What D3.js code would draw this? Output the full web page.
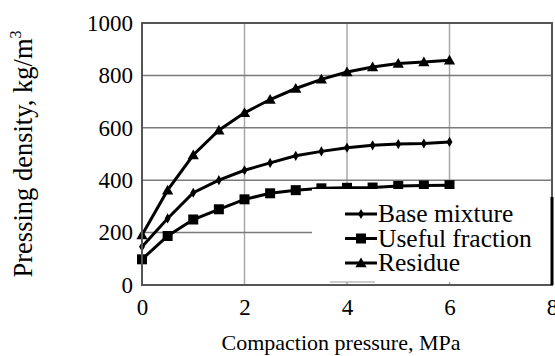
<!DOCTYPE html>
<html lang="en">
  <head>
    <meta charset="UTF-8" />
    <title>Pressing density</title>
    <style>
      body { margin: 0; background: #fff; }
      svg text { font-family: "Liberation Serif", "Times New Roman", Times, serif; fill: #000; }
    </style>
  </head>
  <body>
    <svg id="chart" width="555" height="356"></svg>
    <script src="https://cdn.jsdelivr.net/npm/d3@7"></script>
    <script>
      // data
      const pressure = [0, 0.5, 1, 1.5, 2, 2.5, 3, 3.5, 4, 4.5, 5, 5.5, 6];
      const baseMixture = [146, 254, 352, 400, 438, 466, 493, 510, 524, 533, 538, 540, 546];
      const usefulFraction = [98, 187, 250, 289, 327, 350, 362, 369, 371, 372, 378, 380, 381];
      const residue = [191, 362, 496, 591, 657, 708, 750, 785, 813, 832, 845, 851, 858];
      const seriesNames = ["Base mixture", "Useful fraction", "Residue"];
      const xTicks = [0, 2, 4, 6, 8];
      const yTicks = [0, 200, 400, 600, 800, 1000];

      const serif = '"Liberation Serif", "Times New Roman", Times, serif';
      const svg = d3.select("#chart");
      const plotL = 142, plotR = 552, plotT = 23, plotB = 285;

      const x = d3.scaleLinear().domain([0, 8]).range([plotL, plotR]);
      const y = d3.scaleLinear().domain([0, 1000]).range([plotB, plotT]);

      // grid
      svg.append("g")
        .selectAll("line")
        .data(xTicks.slice(1, -1))
        .join("line")
        .attr("x1", d => x(d)).attr("x2", d => x(d))
        .attr("y1", plotT).attr("y2", plotB)
        .style("stroke", "#a8a8a8")
        .style("stroke-width", 1.5);
      svg.append("g")
        .selectAll("line")
        .data(yTicks.slice(1, -1))
        .join("line")
        .attr("x1", plotL).attr("x2", plotR)
        .attr("y1", d => y(d)).attr("y2", d => y(d))
        .style("stroke", "#7a7a7a")
        .style("stroke-width", 1.5);

      // tick labels
      const xAxis = d3.axisBottom(x).tickValues(xTicks).tickSize(0).tickPadding(14)
        .tickFormat(d3.format("d"));
      svg.append("g")
        .attr("transform", `translate(0,${plotB})`)
        .call(xAxis)
        .attr("font-family", serif)
        .attr("font-size", 23)
        .call(g => g.select(".domain").remove());
      const yAxis = d3.axisLeft(y).tickValues(yTicks).tickSize(0).tickPadding(9)
        .tickFormat(d3.format("d"));
      svg.append("g")
        .attr("transform", `translate(${plotL},0)`)
        .call(yAxis)
        .attr("font-family", serif)
        .attr("font-size", 23)
        .call(g => g.select(".domain").remove());

      const series = [baseMixture, usefulFraction, residue];
      const line = d3.line().x((d, i) => x(pressure[i])).y(d => y(d));

      function marker(g, type, cx, cy) {
        if (type === 0) {
          g.append("path")
            .attr("d", d3.symbol(d3.symbolDiamond, 30)())
            .attr("transform", `translate(${cx},${cy})`);
        } else if (type === 1) {
          g.append("rect")
            .attr("x", cx - 5).attr("y", cy - 5)
            .attr("width", 10).attr("height", 10);
        } else {
          g.append("path")
            .attr("d", d3.symbol(d3.symbolTriangle, 55)())
            .attr("transform", `translate(${cx},${cy + 1})`);
        }
      }

      series.forEach((vals, k) => {
        svg.append("path")
          .datum(vals)
          .attr("d", line)
          .style("fill", "none")
          .style("stroke", "#000")
          .style("stroke-width", 3);
        const g = svg.append("g").style("fill", "#000");
        vals.forEach((v, i) => marker(g, k, x(pressure[i]), y(v)));
      });

      // legend box
      const lg = svg.append("g");
      lg.append("rect")
        .attr("x", 312).attr("y", 189)
        .attr("width", plotR - 312).attr("height", plotB - 3 - 189)
        .style("fill", "#fff");
      lg.append("line")
        .attr("x1", 330).attr("x2", 375)
        .attr("y1", 282).attr("y2", 282)
        .style("stroke", "#999").style("stroke-width", 1);
      const baselines = [222, 246.5, 271];
      seriesNames.forEach((name, k) => {
        const ly = baselines[k] - 8;
        lg.append("line")
          .attr("x1", 345).attr("x2", 377)
          .attr("y1", ly).attr("y2", ly)
          .style("stroke", "#000").style("stroke-width", 3);
        const mg = lg.append("g").style("fill", "#000");
        marker(mg, k, 361, ly);
        lg.append("text")
          .attr("x", 378).attr("y", baselines[k])
          .style("font-size", "25.5px")
          .text(name);
      });

      // frame
      svg.append("rect")
        .attr("x", plotL).attr("y", plotT)
        .attr("width", plotR - plotL).attr("height", plotB - plotT)
        .style("fill", "none")
        .style("stroke", "#555")
        .style("stroke-width", 2);
      svg.append("line")
        .attr("x1", plotR).attr("x2", plotR)
        .attr("y1", 197).attr("y2", plotB)
        .style("stroke", "#000").style("stroke-width", 3);

      // axis titles
      svg.append("text")
        .attr("x", 341).attr("y", 350)
        .attr("text-anchor", "middle")
        .style("font-size", "22px")
        .text("Compaction pressure, MPa");
      const yl = svg.append("text")
        .attr("transform", "translate(32,154) rotate(-90)")
        .attr("text-anchor", "middle")
        .style("font-size", "26.5px");
      yl.append("tspan").text("Pressing density, kg/m");
      yl.append("tspan").attr("dy", -11).style("font-size", "16px").text("3");
    </script>
  </body>
</html>
